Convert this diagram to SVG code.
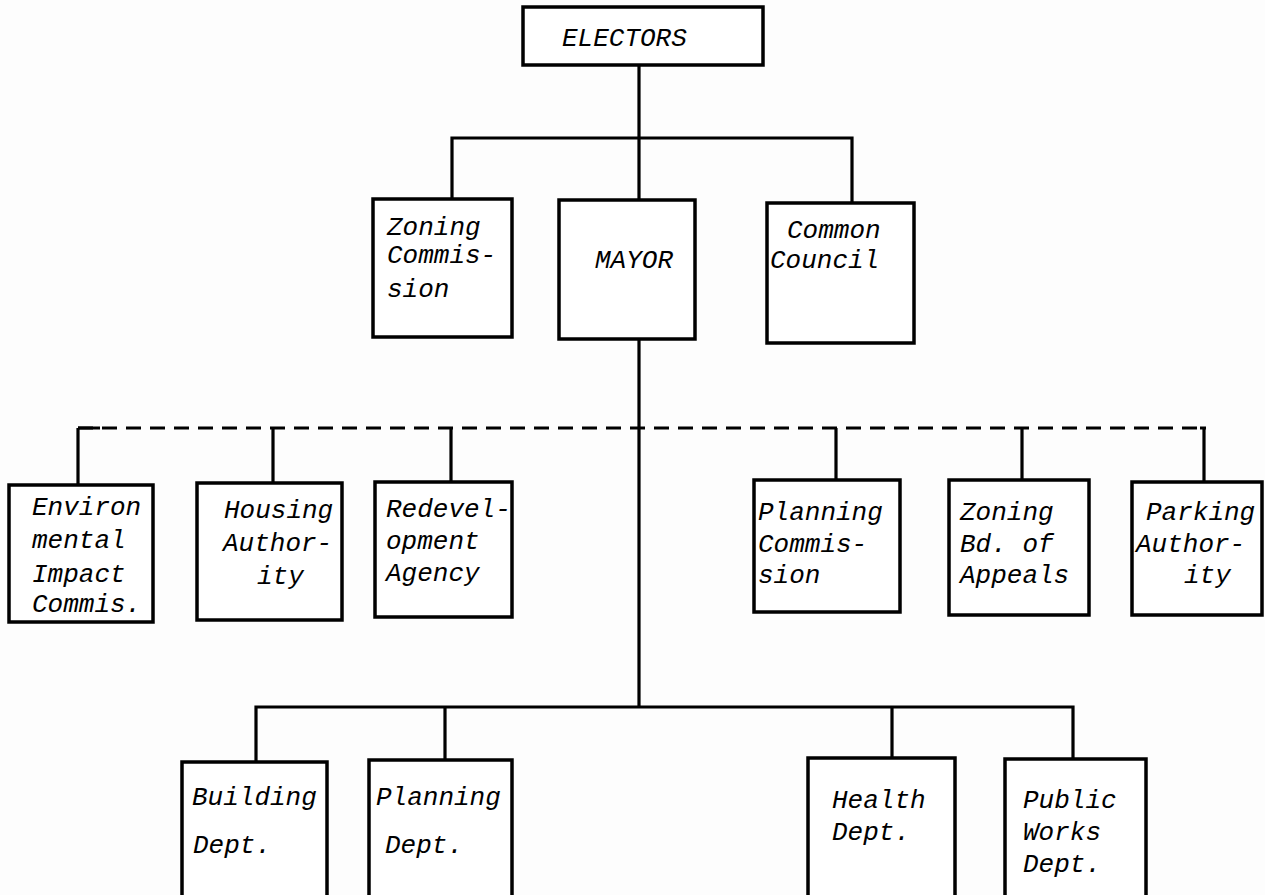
<svg xmlns="http://www.w3.org/2000/svg" width="1265" height="895" viewBox="0 0 1265 895">
<style>
.box{fill:#fff;stroke:#000;stroke-width:3.5}
.ln{fill:none;stroke:#000;stroke-width:3.2}
.dash{fill:none;stroke:#000;stroke-width:3.2;stroke-dasharray:15 9}
text{font-family:"Liberation Mono","Courier New",monospace;font-style:italic;font-size:26px;fill:#000}
</style>
<rect width="1265" height="895" fill="#fdfdfd"/>
<g id="connectors">
<path class="ln" d="M639 65V200M452 199V138H852V203M639 339V707"/>
<path class="dash" d="M78 428H1206"/>
<path class="ln" d="M78 428H100M78 428V485M273 428V483M451 428V482M836 428V480M1022 428V480M1206 428H1200M1204 428V482"/>
<path class="ln" d="M256 762V707H1073V759M445 707V760M892 707V758"/>
</g>
<g id="electors"><rect class="box" x="523" y="7" width="240" height="58"/><text x="562" y="46">ELECTORS</text></g>
<g id="zoning-commission"><rect class="box" x="373" y="199" width="139" height="138"/><text x="387" y="235">Zoning</text><text x="387" y="263">Commis-</text><text x="387" y="297">sion</text></g>
<g id="mayor"><rect class="box" x="559" y="200" width="136" height="139"/><text x="595" y="268">MAYOR</text></g>
<g id="common-council"><rect class="box" x="767" y="203" width="147" height="140"/><text x="787" y="238">Common</text><text x="770" y="268">Council</text></g>
<g id="environmental-impact"><rect class="box" x="9" y="485" width="144" height="137"/><text x="32" y="515">Environ</text><text x="32" y="548">mental</text><text x="32" y="582">Impact</text><text x="32" y="612">Commis.</text></g>
<g id="housing-authority"><rect class="box" x="197" y="483" width="145" height="137"/><text x="224" y="518">Housing</text><text x="223" y="551">Author-</text><text x="257" y="584">ity</text></g>
<g id="redevelopment-agency"><rect class="box" x="375" y="482" width="137" height="135"/><text x="386" y="517">Redevel-</text><text x="386" y="549">opment</text><text x="386" y="581">Agency</text></g>
<g id="planning-commission"><rect class="box" x="754" y="480" width="146" height="132"/><text x="758" y="520">Planning</text><text x="758" y="552">Commis-</text><text x="758" y="583">sion</text></g>
<g id="zoning-board"><rect class="box" x="949" y="480" width="140" height="135"/><text x="960" y="520">Zoning</text><text x="960" y="552">Bd. of</text><text x="960" y="583">Appeals</text></g>
<g id="parking-authority"><rect class="box" x="1132" y="482" width="130" height="133"/><text x="1146" y="520">Parking</text><text x="1136" y="552">Author-</text><text x="1184" y="583">ity</text></g>
<g id="building-dept"><rect class="box" x="182" y="762" width="145" height="150"/><text x="192" y="805">Building</text><text x="193" y="853">Dept.</text></g>
<g id="planning-dept"><rect class="box" x="369" y="760" width="143" height="150"/><text x="376" y="805">Planning</text><text x="385" y="853">Dept.</text></g>
<g id="health-dept"><rect class="box" x="808" y="758" width="147" height="150"/><text x="832" y="808">Health</text><text x="832" y="840">Dept.</text></g>
<g id="public-works"><rect class="box" x="1005" y="759" width="141" height="150"/><text x="1023" y="808">Public</text><text x="1023" y="840">Works</text><text x="1023" y="872">Dept.</text></g>
</svg>
